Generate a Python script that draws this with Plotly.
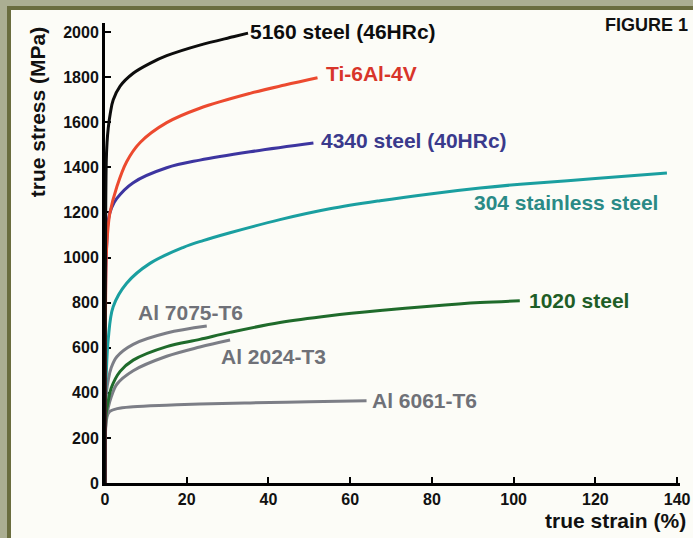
import plotly.graph_objects as go

# ---- data ----
s5160_x = [0, 0.3, 0.5, 0.8, 1.3, 2.0, 3.7, 6.9, 11, 15.1, 23.2, 31.4, 35]
s5160_y = [0, 1420, 1510, 1575, 1640, 1698, 1760, 1817, 1861, 1895, 1942, 1979, 1995]

ti_x = [0, 0.3, 0.6, 1.2, 2.9, 5.3, 8.6, 15.1, 23.2, 35.5, 44, 52]
ti_y = [0, 1000, 1100, 1197, 1314, 1425, 1510, 1598, 1662, 1728, 1765, 1797]

s4340_x = [0, 0.2, 0.4, 0.8, 1.6, 2.9, 6.9, 15.1, 23.2, 35.5, 51]
s4340_y = [0, 950, 1050, 1166, 1220, 1262, 1332, 1398, 1432, 1469, 1508]

ss304_x = [0, 0.15, 0.3, 0.8, 2.0, 5.3, 11, 19.2, 24, 30.6, 42.8, 55, 67.3, 79.5, 91.8, 101.6, 120, 137.5]
ss304_y = [0, 380, 480, 640, 782, 886, 974, 1045, 1075, 1110, 1168, 1216, 1252, 1282, 1308, 1325, 1350, 1375]

s1020_x = [0, 0.15, 0.3, 0.8, 1.5, 3.7, 6.9, 15.1, 23.2, 30.6, 42.8, 55, 67.3, 79.5, 91.8, 101.5]
s1020_y = [0, 260, 310, 365, 420, 495, 545, 605, 637, 668, 712, 742, 765, 784, 800, 808]

al7075_x = [0, 0.15, 0.4, 0.8, 1.5, 2.9, 6.9, 15.1, 24.9]
al7075_y = [0, 330, 410, 457, 510, 560, 615, 665, 696]

al2024_x = [0, 0.15, 0.3, 0.8, 1.5, 2.9, 6.9, 15.1, 23.2, 30.6]
al2024_y = [0, 250, 285, 335, 380, 438, 498, 562, 603, 634]

al6061_x = [0, 0.15, 0.3, 0.7, 1.2, 3, 6.9, 15, 23.2, 35.5, 50, 64]
al6061_y = [0, 240, 275, 305, 318, 330, 338, 345, 350, 355, 360, 365]

series_names = ["5160 steel (46HRc)", "Ti-6Al-4V", "4340 steel (40HRc)", "304 stainless steel",
                "1020 steel", "Al 7075-T6", "Al 2024-T3", "Al 6061-T6"]

x_ticks = [0, 20, 40, 60, 80, 100, 120, 140]
y_ticks = [0, 200, 400, 600, 800, 1000, 1200, 1400, 1600, 1800, 2000]

# ---- styling ----
GRAY = "#7c7e86"
series = [
    (s5160_x, s5160_y, "#0d0d0d", "#0d0d0d", (35.0, 2003)),
    (ti_x, ti_y, "#ec4a2f", "#d8352a", (53.6, 1818)),
    (s4340_x, s4340_y, "#3d35a0", "#3a3a8c", (52.4, 1520)),
    (ss304_x, ss304_y, "#1a9fa0", "#2a8a86", (89.8, 1242)),
    (s1020_x, s1020_y, "#1f6b2b", "#1f5e27", (103.2, 811)),
    (al7075_x, al7075_y, GRAY, "#6f7178", (7.6, 754)),
    (al2024_x, al2024_y, GRAY, "#6f7178", (27.9, 559)),
    (al6061_x, al6061_y, GRAY, "#6f7178", (64.9, 368)),
]

fig = go.Figure()
order = [5, 6, 7, 4, 3, 2, 1, 0]
for i in order:
    xs, ys, col, _, _ = series[i]
    fig.add_trace(go.Scatter(x=xs, y=ys, mode="lines", name=series_names[i],
                             line=dict(color=col, width=3, shape="spline", smoothing=1.0),
                             showlegend=False, hoverinfo="skip"))

FONT = "Liberation Sans, Arial, sans-serif"
for i, (xs, ys, col, tcol, pos) in enumerate(series):
    fig.add_annotation(x=pos[0], y=pos[1], xref="x", yref="y", text=series_names[i],
                       showarrow=False, xanchor="left", yanchor="middle",
                       font=dict(family=FONT, size=21, color=tcol, weight="bold"))

fig.add_annotation(x=1.0139, y=-0.082, xref="paper", yref="paper", text="true strain (%)",
                   showarrow=False, xanchor="right", yanchor="middle",
                   font=dict(family=FONT, size=21, color="#111", weight="bold"))
fig.add_annotation(x=-0.118, y=0.8065, xref="paper", yref="paper", text="true stress (MPa)",
                   showarrow=False, textangle=-90, xanchor="center", yanchor="middle",
                   font=dict(family=FONT, size=21, color="#111", weight="bold"))
fig.add_annotation(x=1.0174, y=0.9957, xref="paper", yref="paper", text="FIGURE 1",
                   showarrow=False, xanchor="right", yanchor="middle",
                   font=dict(family=FONT, size=18, color="#111", weight="bold"))

W, H = 693, 538
ml, mr, mt, mb = 105, 13, 23, 55
pw, ph = W - ml - mr, H - mt - mb
def px2px(px):
    return (px - ml) / pw
def py2py(py):
    return (H - mb - py) / ph

fig.add_shape(type="rect", xref="paper", yref="paper", layer="below",
              x0=px2px(0), x1=px2px(W + 2), y0=py2py(H + 2), y1=py2py(-2),
              fillcolor="#abae92", line=dict(width=0))
fig.add_shape(type="rect", xref="paper", yref="paper", layer="below",
              x0=px2px(7), x1=px2px(W + 5), y0=py2py(H + 5), y1=py2py(6),
              fillcolor="#6a6d3f", line=dict(width=0))
fig.add_shape(type="rect", xref="paper", yref="paper", layer="below",
              x0=px2px(11), x1=px2px(W + 5), y0=py2py(H + 5), y1=py2py(10),
              fillcolor="#fcfcf7", line=dict(width=0))

fig.update_layout(
    width=W, height=H,
    margin=dict(l=ml, r=mr, t=mt, b=mb, autoexpand=False),
    paper_bgcolor="#fcfcf7", plot_bgcolor="rgba(0,0,0,0)",
    showlegend=False,
    xaxis=dict(range=[0, 140.7], tickvals=x_ticks, ticktext=[str(v) for v in x_ticks],
               showgrid=False, zeroline=False, showline=True, linecolor="#000", linewidth=3,
               ticks="inside", ticklen=6, tickwidth=2, tickcolor="#000",
               tickfont=dict(family=FONT, size=16, color="#111", weight="bold"),
               layer="below traces", fixedrange=True),
    yaxis=dict(range=[0, 2040], tickvals=y_ticks, ticktext=[str(v) for v in y_ticks],
               showgrid=False, zeroline=False, showline=True, linecolor="#000", linewidth=3,
               ticks="inside", ticklen=6, tickwidth=2, tickcolor="#000",
               tickfont=dict(family=FONT, size=16, color="#111", weight="bold"),
               layer="below traces", fixedrange=True),
)

fig.write_html("out.html", config={"displayModeBar": False},
               post_script="document.body.style.margin='0';document.body.style.overflow='hidden';")
